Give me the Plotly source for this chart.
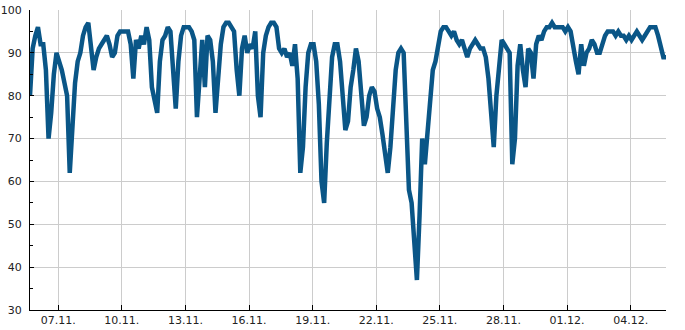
import pandas as pd
import plotly.graph_objects as go

# 3-hourly readings starting 05.11. 16:00
start_time = "2023-11-05 16:00"
step = "3h"
values = [
    80, 91, 94, 96, 92, 92, 86, 70,      # 05.11 16h
    76, 85, 90, 88, 86, 83, 80, 62,      # 06.11
    74, 83, 88, 90, 94, 96, 97, 91,      # 07.11
    86, 89, 91, 92, 93, 94, 92, 89,      # 08.11
    90, 94, 95, 95, 95, 95, 92, 84,      # 09.11
    93, 91, 94, 92, 96, 93, 82, 79,      # 10.11
    76, 88, 93, 94, 96, 95, 84, 77,      # 11.11
    88, 94, 96, 96, 96, 95, 93, 75,      # 12.11
    86, 93, 82, 94, 93, 88, 76, 84,      # 13.11
    92, 96, 97, 97, 96, 95, 86, 80,      # 14.11
    91, 94, 90, 92, 91, 95, 80, 75,      # 15.11
    90, 94, 96, 97, 97, 96, 91, 90,      # 16.11
    91, 89, 90, 87, 92, 84, 62, 68,      # 17.11
    82, 90, 92, 92, 88, 78, 60, 55,      # 18.11
    69, 80, 89, 92, 92, 88, 79, 72,      # 19.11
    74, 82, 86, 91, 88, 80, 73, 75,      # 20.11
    80, 82, 81, 77, 75, 71, 66, 62,      # 21.11
    68, 79, 86, 90, 91, 90, 70, 58,      # 22.11
    55, 44, 37, 52, 70, 64, 72, 80,      # 23.11
    86, 88, 92, 95, 96, 96, 95, 94,      # 24.11
    95, 93, 92, 93, 91, 89, 91, 92,      # 25.11
    93, 92, 91, 91, 89, 84, 76, 68,      # 26.11
    80, 88, 93, 92, 91, 90, 64, 70,      # 27.11
    87, 92, 86, 82, 91, 90, 84, 92,      # 28.11
    94, 93, 95, 96, 96, 97, 96, 96,      # 29.11
    96, 96, 95, 96, 95, 91, 88, 85,      # 30.11
    92, 87, 90, 91, 93, 92, 90, 90,      # 01.12
    92, 94, 95, 95, 95, 94, 95, 94,      # 02.12
    94, 93, 94, 93, 94, 95, 94, 93,      # 03.12
    94, 95, 96, 96, 96, 94, 91, 89, 89,  # 04.12
]
times = pd.date_range(start=start_time, periods=len(values), freq=step)

y_ticks = [30, 40, 50, 60, 70, 80, 90, 100]
x_tick_start = "2023-11-07"
x_range = ["2023-11-05 16:00", "2023-12-05 16:00"]

fig = go.Figure()
fig.add_trace(go.Scatter(
    x=times, y=values, mode="lines",
    line=dict(color="#0a5687", width=4.5),
    showlegend=False,
))

axis_font = dict(family="DejaVu Sans", size=11, color="#222222")
fig.update_layout(
    width=685, height=330,
    margin=dict(l=30, r=19, t=10, b=20),
    plot_bgcolor="white", paper_bgcolor="white",
    font=axis_font,
    xaxis=dict(
        type="date", range=x_range, automargin=False,
        tick0=x_tick_start, dtick=3 * 86400000, tickformat="%d.%m.",
        showgrid=True, gridcolor="#cccccc", gridwidth=1,
        showline=True, linecolor="#000000", linewidth=1,
        ticks="inside", ticklen=5, tickcolor="#000000",
        zeroline=False, tickfont=axis_font,
    ),
    yaxis=dict(
        range=[30, 100], tickvals=y_ticks, automargin=False,
        showgrid=True, gridcolor="#cccccc", gridwidth=1,
        showline=True, linecolor="#000000", linewidth=1,
        ticks="inside", ticklen=4, tickcolor="#000000",
        ticklabelstandoff=5,
        minor=dict(dtick=5, ticks="inside", ticklen=3, tickcolor="#000000", showgrid=False),
        zeroline=False, tickfont=axis_font,
    ),
)

fig.write_html("out.html")
